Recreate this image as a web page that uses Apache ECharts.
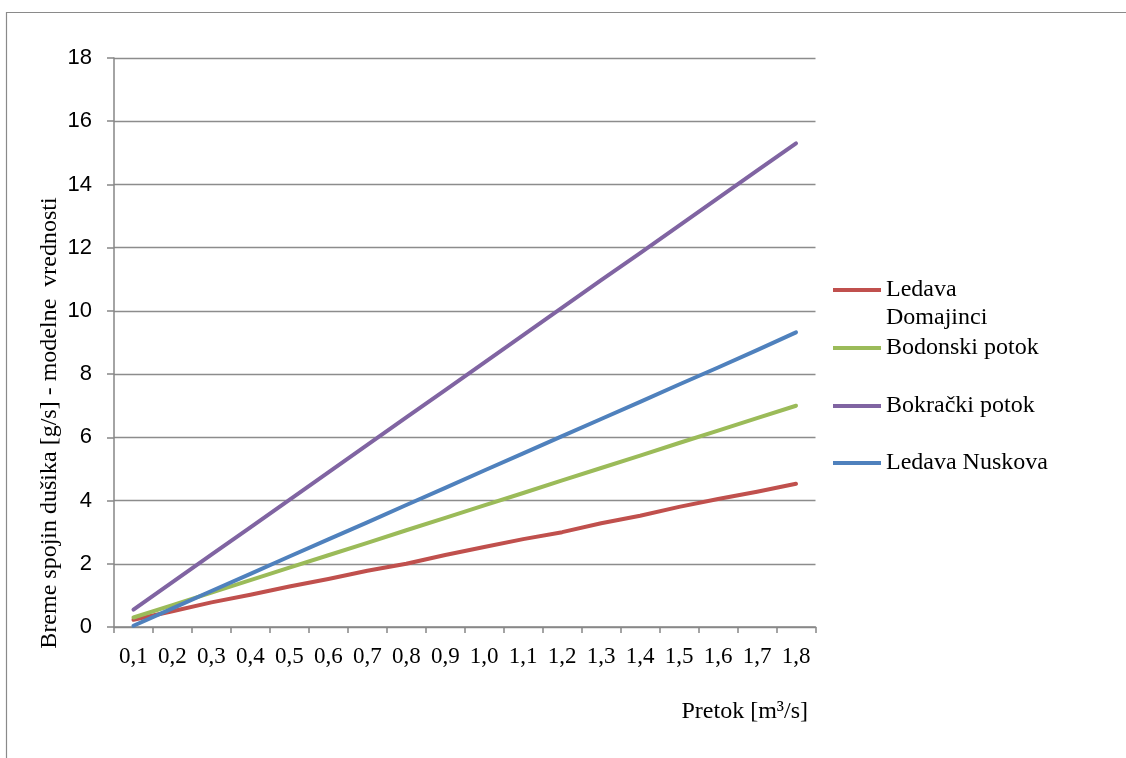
<!DOCTYPE html>
<html>
<head>
<meta charset="utf-8">
<script src="https://cdn.jsdelivr.net/npm/echarts@6/dist/echarts.min.js"></script>
<style>
html,body{margin:0;padding:0;background:#fff;}
#chart{width:1126px;height:758px;}
</style>
</head>
<body>
<div id="chart"></div>
<script>
// Categories: flow rate [m3/s]
const categories = ['0,1','0,2','0,3','0,4','0,5','0,6','0,7','0,8','0,9','1,0','1,1','1,2','1,3','1,4','1,5','1,6','1,7','1,8'];
// Series values
const ledavaDomajinci = [0.23,0.50,0.78,1.02,1.28,1.52,1.78,2.00,2.28,2.53,2.78,3.00,3.28,3.52,3.80,4.05,4.28,4.53];
const bodonskiPotok   = [0.30,0.69,1.09,1.48,1.88,2.27,2.66,3.06,3.45,3.85,4.24,4.64,5.03,5.42,5.82,6.21,6.61,7.00];
const bokrackiPotok   = [0.55,1.42,2.29,3.15,4.02,4.89,5.76,6.63,7.49,8.36,9.23,10.10,10.97,11.83,12.70,13.57,14.44,15.30];
const ledavaNuskova   = [0.04,0.59,1.14,1.68,2.23,2.77,3.31,3.86,4.40,4.95,5.49,6.04,6.58,7.12,7.67,8.21,8.76,9.32];
const seriesNames = ['Ledava Domajinci','Bodonski potok','Bokrački potok','Ledava Nuskova'];
const seriesColors = ['#C0504D','#9BBB59','#8064A2','#4F81BD'];
const yTitle = 'Breme spojin dušika [g/s] - modelne  vrednosti';
const xTitle = 'Pretok [m³/s]';

const serif = '"Liberation Serif","Times New Roman",serif';
const sans = '"Liberation Sans",Arial,sans-serif';

const chart = echarts.init(document.getElementById('chart'), null, {renderer:'canvas'});
const dataSets = [ledavaDomajinci, bodonskiPotok, bokrackiPotok, ledavaNuskova];

const legendTops = [248, 334, 392, 449];
const legends = seriesNames.map((n, i) => ({
  data: [n],
  orient: 'vertical',
  left: 833,
  top: legendTops[i],
  padding: 0,
  icon: 'rect',
  itemWidth: 48,
  itemHeight: 4,
  itemGap: 5,
  selectedMode: false,
  formatter: i === 0 ? ' \nLedava\nDomajinci' : '{name}',
  textStyle: {fontFamily: serif, fontSize: 24, color: '#000', lineHeight: 28}
}));

const option = {
  backgroundColor: '#fff',
  animation: false,
  grid: {left: 114, top: 58, right: 310.5, bottom: 131, containLabel: false},
  legend: legends,
  xAxis: {
    type: 'category',
    data: categories,
    boundaryGap: true,
    axisLine: {show: true, lineStyle: {color: '#868686', width: 1.5}},
    axisTick: {show: true, length: 6, alignWithLabel: false, lineStyle: {color: '#868686', width: 1.5}},
    axisLabel: {fontFamily: serif, fontSize: 23, color: '#000', margin: 18, lineHeight: 23, interval: 0},
    splitLine: {show: false}
  },
  yAxis: {
    type: 'value',
    min: 0, max: 18, interval: 2,
    axisLine: {show: true, lineStyle: {color: '#868686', width: 1.5}},
    axisTick: {show: true, length: 7, lineStyle: {color: '#868686', width: 1.5}},
    axisLabel: {fontFamily: sans, fontSize: 22, color: '#000', margin: 22},
    splitLine: {show: true, lineStyle: {color: '#8c8c8c', width: 1.3}}
  },
  series: seriesNames.map((n, i) => ({
    name: n,
    type: 'line',
    data: dataSets[i],
    showSymbol: false,
    symbol: 'none',
    smooth: false,
    color: seriesColors[i],
    lineStyle: {color: seriesColors[i], width: 4, cap: 'round', join: 'round'},
    z: 3
  })),
  graphic: [
    {type: 'rect', shape: {x: 6.5, y: 12.5, width: 1300, height: 1000}, style: {fill: 'none', stroke: '#8a8a8a', lineWidth: 1.2}, z: -1, silent: true},
    {type: 'text', x: 50, y: 423, rotation: Math.PI/2, style: {text: yTitle, font: '24px ' + serif, fill: '#000', align: 'center', verticalAlign: 'middle'}},
    {type: 'text', x: 808, y: 712, style: {text: xTitle, font: '24px ' + serif, fill: '#000', align: 'right', verticalAlign: 'middle'}}
  ]
};
chart.setOption(option);
</script>
</body>
</html>
